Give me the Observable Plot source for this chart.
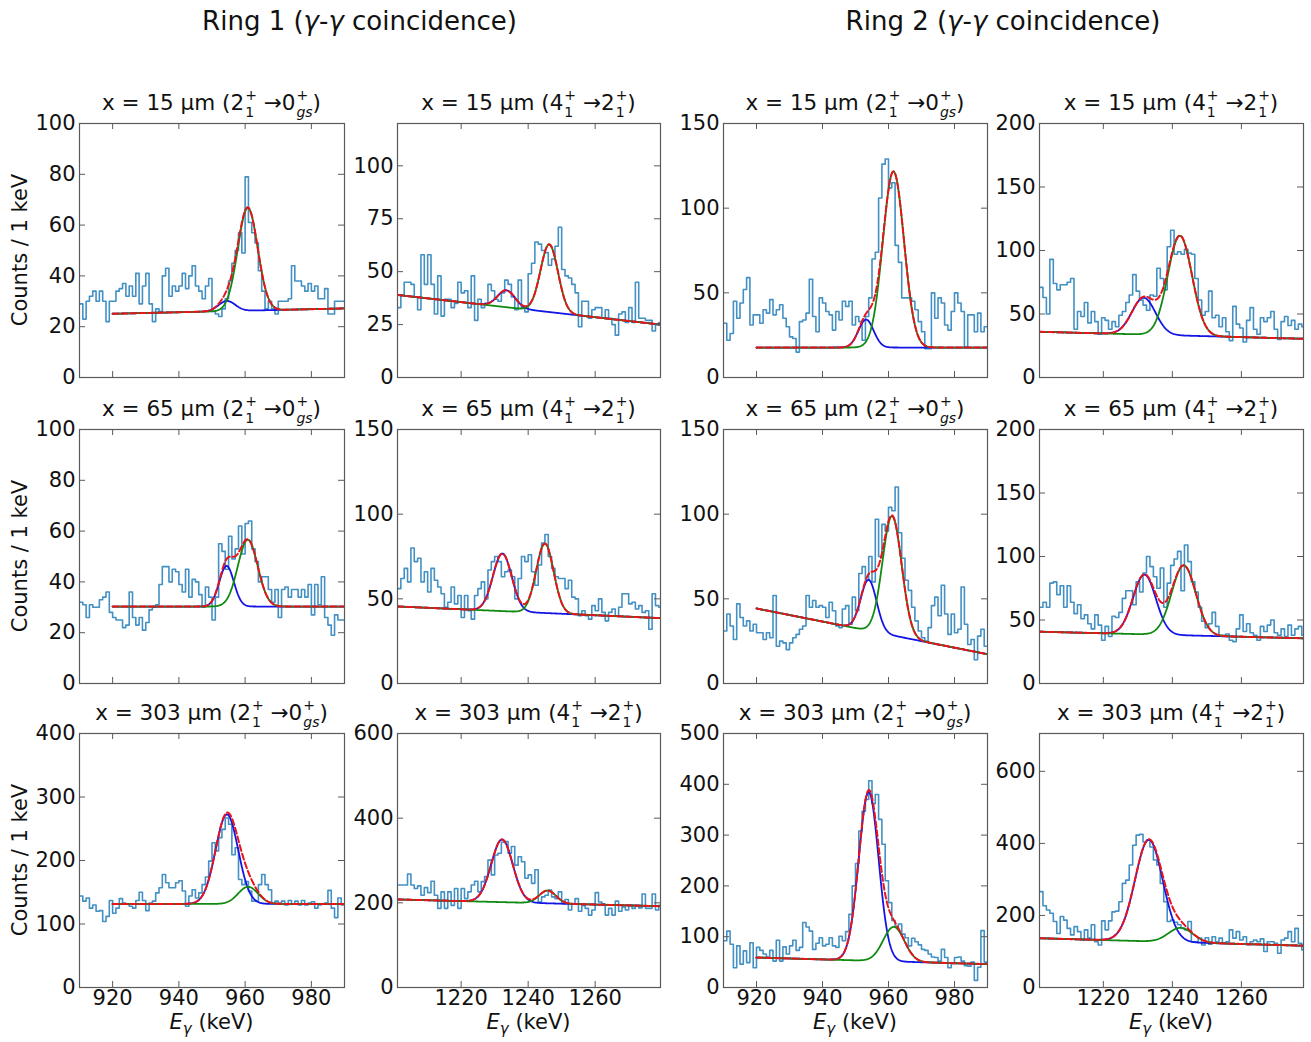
<!DOCTYPE html>
<html>
<head>
<meta charset="utf-8">
<script src="https://cdn.jsdelivr.net/npm/d3@7"></script>
<script src="https://cdn.jsdelivr.net/npm/@observablehq/plot@0.6"></script>
<style>
html,body{margin:0;padding:0;background:#fff;}
#root{position:relative;width:1311px;height:1042px;overflow:hidden;font-family:"DejaVu Sans",sans-serif;color:#111;background:#fff;}
.abs{position:absolute;}
.ring{font-size:26px;white-space:nowrap;transform:translateX(-50%);line-height:32px;}
.ptitle{font-size:21.5px;text-align:center;white-space:nowrap;line-height:30px;height:30px;}
.ss{display:inline-block;vertical-align:-7px;font-size:14px;line-height:17px;margin-left:1px;text-align:left;}
.ss span{display:block;}
.ylab{font-size:21px;white-space:nowrap;transform:translate(-50%,-50%) rotate(-90deg);}
.xlab{font-size:21px;white-space:nowrap;transform:translateX(-50%);line-height:24px;}
svg{overflow:visible;}
</style>
</head>
<body>
<div id="root"></div>
<script>
// ---------------- data ----------------
const ringTitles = ["Ring 1", "Ring 2"];
const distances = ["15", "65", "303"];
// transition labels per column: [initial, initial-sub, final, final-sub]
const transitions = [["2", "1", "0", "gs"], ["4", "1", "2", "1"], ["2", "1", "0", "gs"], ["4", "1", "2", "1"]];

const colBinStart = [910, 1201, 910, 1201.5];
const colDomain = [[910, 990], [1201, 1279.5], [910, 990], [1201.5, 1278]];
const colXTicks = [[920, 940, 960, 980], [1220, 1240, 1260], [920, 940, 960, 980], [1220, 1240, 1260]];
const fitStart = [920, 1201, 920, 1201.5];
const fitEnd = [990, 1279.5, 990, 1278];

const yMax = [100, 120, 150, 200, 100, 150, 150, 200, 400, 600, 500, 705];
const yTicks = [
  [0, 20, 40, 60, 80, 100], [0, 25, 50, 75, 100], [0, 50, 100, 150], [0, 50, 100, 150, 200],
  [0, 20, 40, 60, 80, 100], [0, 50, 100, 150], [0, 50, 100, 150], [0, 50, 100, 150, 200],
  [0, 100, 200, 300, 400], [0, 200, 400, 600], [0, 100, 200, 300, 400, 500], [0, 200, 400, 600]
];

// histogram counts (1 keV bins)
const countsR1C1 = [29,23,30,32,34,30,34,30,22,30, 30,34,35,37,32,36,32,41,29,36, 41,29,22,27,26,40,43,32,36,34, 36,41,35,40,44,36,34,31,36,39, 26,25,24,27,31,38,45,50,57,49, 79,61,57,53,42,34,27,30,27,25, 30,30,30,31,44,38,38,36,34,37, 34,36,31,31,35,25,25,30,30,30];
const countsR1C2 = [33,39,45,45,44,38,32,58,44,58, 44,30,48,29,37,37,33,35,45,40, 41,33,48,27,37,33,35,44,41,37, 36,40,46,44,38,32,46,33,31,49, 54,64,63,60,59,53,56,62,71,51, 48,47,44,40,24,36,36,28,32,33, 33,28,32,28,25,20,30,31,26,33, 26,45,28,28,27,27,22,25,26];
const countsR1C3 = [32,22,26,45,35,44,52,59,31,37, 37,32,40,38,46,37,40,43,35,30, 24,23,15,33,34,38,58,36,27,47, 44,39,37,28,39,34,45,42,45,31, 36,33,22,36,47,70,74,106,126,129, 112,115,78,68,47,47,47,45,40,33, 27,17,17,50,35,47,44,31,28,39, 50,44,39,18,37,37,27,38,27,30];
const countsR1C4 = [71,63,50,93,74,69,73,73,75,78, 38,52,48,59,43,52,44,34,47,45, 38,44,40,49,52,59,65,81,68,61, 57,53,65,64,86,78,69,103,116,97, 99,97,101,98,97,78,61,49,52,68, 47,49,40,47,36,29,56,42,39,28, 45,55,38,34,47,44,47,52,38,30, 44,48,41,45,38,42,40];
const countsR2C1 = [32,31,26,31,30,30,33,34,36,28, 26,25,25,22,23,36,26,23,26,21, 24,29,30,31,39,46,46,40,45,44, 39,36,45,34,41,40,35,30,38,34, 25,34,55,52,45,58,49,53,62,51, 63,64,53,48,40,42,42,37,32,37, 26,37,38,34,37,37,34,37,34,39, 27,39,31,42,26,23,19,27,25,25];
const countsR2C2 = [56,62,68,60,80,72,74,60,66,54, 68,61,57,53,45,48,57,47,52,39, 52,43,38,52,56,60,50,67,72,75, 72,63,66,67,63,50,62,75,72,76, 66,58,70,83,88,75,68,63,62,62, 56,61,51,50,40,43,40,38,46,43, 50,42,37,42,44,40,45,53,53,47, 48,44,46,42,43,32,53,46,45];
const countsR2C3 = [31,41,34,26,47,39,34,37,31,35, 30,30,26,30,27,52,22,25,24,20, 24,27,29,32,34,52,45,49,45,46, 45,39,48,43,34,33,44,46,35,51, 43,65,69,61,75,60,97,75,94,90, 104,102,116,89,74,61,55,45,37,31, 27,25,33,46,51,40,58,41,29,41, 30,32,57,35,23,26,14,28,32,22];
const countsR2C4 = [60,64,60,79,80,70,77,60,77,64, 55,62,51,54,47,43,54,46,34,45, 37,53,52,56,67,73,73,62,80,72, 87,100,92,84,75,91,60,79,93,98, 104,73,109,96,80,72,60,49,44,47, 56,45,38,38,39,34,33,43,54,41, 47,40,38,34,45,41,46,50,40,38, 43,37,46,38,43,45,38];
const countsR3C1 = [144,136,141,125,130,120,121,104,112,137, 117,125,140,133,132,128,125,137,150,137, 121,133,136,149,157,178,165,157,157,165, 168,152,128,144,154,141,149,162,174,199, 228,215,236,249,267,257,209,220,170,162, 167,152,136,136,162,178,162,154,133,136, 133,136,130,137,131,136,130,137,130,133, 135,125,130,131,133,153,125,110,141,130];
const countsR3C2 = [242,242,242,268,242,234,240,218,236,224, 251,218,187,226,187,226,194,234,187,234, 210,226,242,251,226,250,262,301,266,313, 317,343,345,317,333,289,309,297,258,266, 246,278,202,214,218,230,214,210,226,198, 208,183,197,210,180,194,187,171,183,224, 202,198,171,187,171,204,180,190,183,194, 187,194,188,221,187,187,221,183,194];
const countsR3C3 = [92,111,85,39,82,46,72,49,88,39, 79,73,66,60,73,52,93,52,80,66, 82,93,73,79,128,119,111,75,87,98, 82,85,98,82,79,101,92,110,144,200, 244,308,347,370,407,362,380,331,282,210, 167,132,119,125,105,98,82,97,90,84, 75,73,66,60,59,52,75,59,39,47, 59,60,52,43,42,50,14,40,112,50];
const countsR3C4 = [266,227,215,206,183,150,197,187,164,146, 169,155,132,160,137,174,127,118,185,160, 185,210,212,238,289,298,340,395,423,425, 404,409,390,354,340,289,238,183,187,181, 174,164,160,183,127,127,137,118,138,120, 141,127,137,123,127,160,137,155,132,141, 118,127,132,127,135,100,127,127,123,95, 132,137,155,127,164,123,104];

// fit parameters (linear background + two Gaussians)
const bgStart = [25.1, 39, 17.7, 36, 30.3, 45.5, 44.3, 40.8, 131.6, 208, 59, 136.7];
const bgEnd = [27.2, 25, 17.7, 30.5, 30.3, 38.6, 17.3, 35.6, 131.6, 192, 46, 116];
const blueCenter = [954.5, 1233.5, 953.2, 1231.7, 954.4, 1232.3, 954, 1231.9, 954.5, 1232.2, 954, 1233.2];
const blueAmp = [4, 8, 16.5, 29, 16, 34, 30, 47, 141, 148, 332, 282];
const blueSigma = [2.5, 2.6, 2.3, 3.4, 2.2, 2.8, 2.4, 3.3, 3.4, 3.2, 3.0, 4.0];
const greenCenter = [960.8, 1246.3, 961.5, 1242.2, 960.8, 1245, 961.1, 1243.3, 960.9, 1245.8, 961.6, 1242.4];
const greenAmp = [40.5, 32, 104, 78.5, 26.3, 41, 70.5, 55, 27, 30, 68, 40];
const greenSigma = [3.0, 2.6, 3.2, 3.5, 3.0, 2.6, 2.9, 3.5, 3.0, 2.5, 3.2, 3.5];

const allCounts = [countsR1C1, countsR1C2, countsR1C3, countsR1C4, countsR2C1, countsR2C2, countsR2C3, countsR2C4, countsR3C1, countsR3C2, countsR3C3, countsR3C4];

// ---------------- layout ----------------
const colLeft = [79, 397, 723, 1039];
const colWidth = [265, 263, 264, 264];
const rowTop = [123, 429, 733];
const H = 254;
const ML = 60, MR = 8, MT = 6, MB = 36;
const FONT = "DejaVu Sans, sans-serif";
const histColor = "#4390c4";
const frameColor = "#5a5a5a";

const root = document.getElementById("root");
function addDiv(cls, html, css) {
  const d = document.createElement("div");
  d.className = "abs " + cls;
  d.innerHTML = html;
  Object.assign(d.style, css);
  root.appendChild(d);
  return d;
}
const ss = (sup, sub) => `<span class="ss"><span>${sup}</span><span>${sub}</span></span>`;

// ring titles
[[0, 1], [2, 3]].forEach((cols, g) => {
  const cx = (colLeft[cols[0]] + colLeft[cols[1]] + colWidth[cols[1]]) / 2 - 10;
  addDiv("ring", `${ringTitles[g]} (<i>γ</i>-<i>γ</i> coincidence)`, {left: cx + "px", top: "5px"});
});

// y labels
rowTop.forEach(t => addDiv("ylab", "Counts / 1 keV", {left: "20px", top: (t + H / 2) + "px"}));

// x labels
colLeft.forEach((l, c) => addDiv("xlab", `<i>E</i><sub style="font-size:15px"><i>γ</i></sub> (keV)`, {left: (l + colWidth[c] / 2) + "px", top: "1010px"}));

allCounts.forEach((counts, k) => {
  const r = Math.floor(k / 4), c = k % 4;
  const w = colWidth[c];
  const tr = transitions[c];
  const subI = tr[1] === "gs" ? "<i>gs</i>" : tr[1];
  const subF = tr[3] === "gs" ? "<i>gs</i>" : tr[3];
  addDiv("ptitle", `x = ${distances[r]} μm (${tr[0]}${ss("+", subI)} →${tr[2]}${ss("+", subF)})`,
    {left: (colLeft[c] - 20) + "px", width: (w + 40) + "px", top: (rowTop[r] - 36) + "px"});

  const hist = counts.map((v, i) => ({e: colBinStart[c] + i, n: v}));
  hist.push({e: colBinStart[c] + counts.length, n: counts[counts.length - 1]});

  const e0 = fitStart[c], e1 = fitEnd[c];
  const bg = e => bgStart[k] + (bgEnd[k] - bgStart[k]) * (e - e0) / (e1 - e0);
  const gB = e => blueAmp[k] * Math.exp(-((e - blueCenter[k]) ** 2) / (2 * blueSigma[k] ** 2));
  const gG = e => greenAmp[k] * Math.exp(-((e - greenCenter[k]) ** 2) / (2 * greenSigma[k] ** 2));
  const fit = d3.range(e0, e1 + 0.001, 0.2).map(e => ({e, blue: bg(e) + gB(e), green: bg(e) + gG(e), total: bg(e) + gB(e) + gG(e)}));

  const xt = colXTicks[c], yt = yTicks[k];
  const marks = [
    Plot.line(hist, {x: "e", y: "n", curve: "step-after", stroke: histColor, strokeWidth: 1.6, clip: true}),
    Plot.line(fit, {x: "e", y: "blue", stroke: "#1414e6", strokeWidth: 1.8, clip: true}),
    Plot.line(fit, {x: "e", y: "green", stroke: "#108a10", strokeWidth: 1.8, clip: true}),
    Plot.line(fit, {x: "e", y: "total", stroke: "#e8141c", strokeWidth: 2, strokeDasharray: "6,3", clip: true}),
    Plot.tickX(xt, {x: d => d, insetTop: H - 6, stroke: frameColor}),
    Plot.tickX(xt, {x: d => d, insetBottom: H - 6, stroke: frameColor}),
    Plot.tickY(yt, {y: d => d, insetRight: w - 6, stroke: frameColor}),
    Plot.tickY(yt, {y: d => d, insetLeft: w - 6, stroke: frameColor}),
    Plot.frame({stroke: frameColor, strokeWidth: 1.2}),
    Plot.axisY({ticks: yt, tickSize: 0, tickPadding: 4, label: null, fontSize: 21, fill: "#111", tickFormat: d => String(d)})
  ];
  if (r === 2) marks.push(Plot.axisX({ticks: xt, tickSize: 0, tickPadding: 3, label: null, fontSize: 21, fill: "#111", tickFormat: d => String(d)}));

  const svg = Plot.plot({
    width: w + ML + MR,
    height: H + MT + MB,
    marginLeft: ML, marginRight: MR, marginTop: MT, marginBottom: MB,
    style: {fontFamily: FONT, fontSize: "21px", background: "transparent", overflow: "visible"},
    x: {domain: colDomain[c], axis: null},
    y: {domain: [0, yMax[k]], axis: null},
    marks
  });
  svg.style.position = "absolute";
  svg.style.left = (colLeft[c] - ML) + "px";
  svg.style.top = (rowTop[r] - MT) + "px";
  svg.style.maxWidth = "none";
  root.appendChild(svg);
});
</script>
</body>
</html>
